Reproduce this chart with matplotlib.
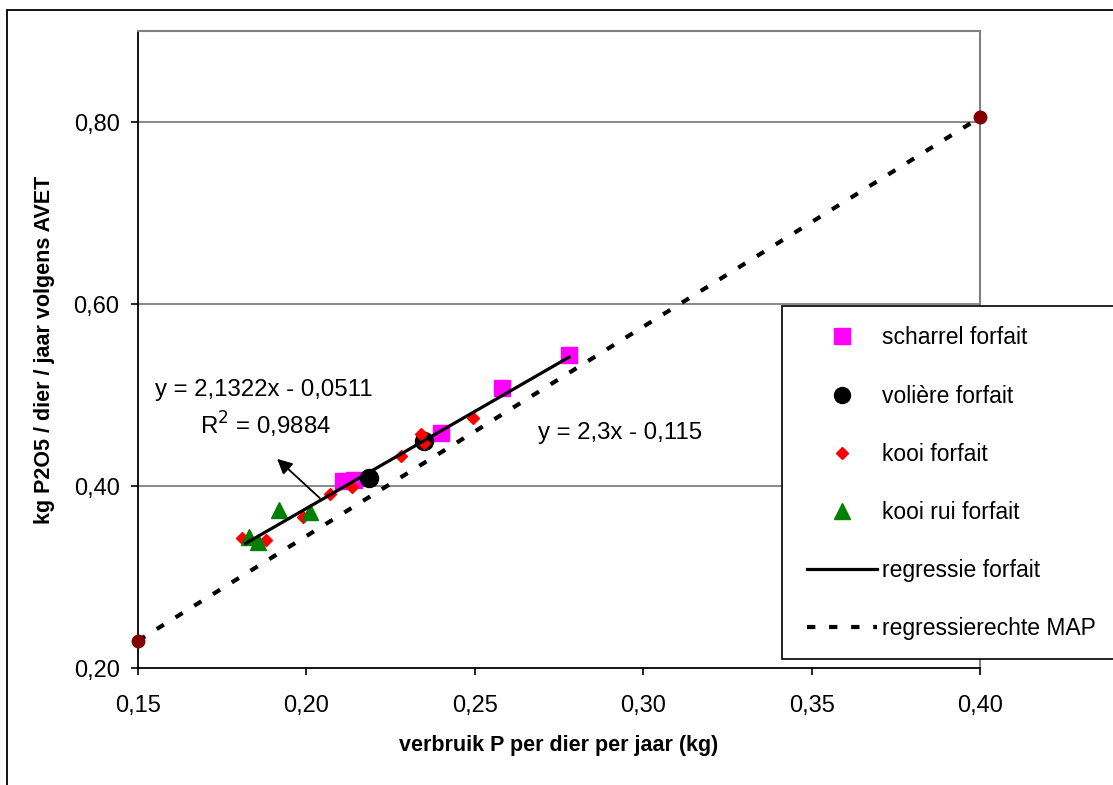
import matplotlib
matplotlib.use("Agg")
import matplotlib.pyplot as plt
from matplotlib.lines import Line2D
from matplotlib.patches import Rectangle
from matplotlib.ticker import FuncFormatter

plt.rcParams['font.family'] = ['Liberation Sans', 'DejaVu Sans']

# --- data -------------------------------------------------------------
scharrel_x = [0.211, 0.214, 0.240, 0.258, 0.278]
scharrel_y = [0.405, 0.407, 0.458, 0.508, 0.544]

voliere_x = [0.2186, 0.235]
voliere_y = [0.409, 0.449]

kooi_x = [0.181, 0.188, 0.199, 0.207, 0.2135, 0.228, 0.234, 0.235, 0.2495]
kooi_y = [0.343, 0.341, 0.366, 0.391, 0.399, 0.433, 0.457, 0.447, 0.475]

kooi_rui_x = [0.183, 0.1856, 0.192, 0.201]
kooi_rui_y = [0.344, 0.338, 0.374, 0.371]

# fitted regression on forfait data
reg_slope, reg_icept, reg_r2 = 2.1322, -0.0511, 0.9884
reg_x = [0.182, 0.278]

# MAP reference line
map_slope, map_icept = 2.3, -0.115
map_x = [0.15, 0.40]

x_ticks = [0.15, 0.20, 0.25, 0.30, 0.35, 0.40]
y_ticks = [0.20, 0.40, 0.60, 0.80]

# --- figure -----------------------------------------------------------
W, H = 1113, 785
fig = plt.figure(figsize=(W / 100, H / 100), dpi=100)
ax = fig.add_axes([138 / W, 1 - 668 / H, (980 - 138) / W, (668 - 31) / H])

# outer chart frame
fig.add_artist(Rectangle((7 / W, -0.2), 1.3, 1.2 - 10 / H,
                         transform=fig.transFigure, fill=False,
                         edgecolor='black', lw=1.3, zorder=0))

ax.set_xlim(0.15, 0.40)
ax.set_ylim(0.20, 0.90)

for y in y_ticks[1:]:
    ax.axhline(y, color='#808080', lw=1.3, zorder=1)

map_y = [map_slope * x + map_icept for x in map_x]
reg_y = [reg_slope * x + reg_icept for x in reg_x]

ax.plot(map_x, map_y, color='black', lw=3, dashes=(2.0, 3.3), zorder=2)
ax.plot(map_x, map_y, 'o', color='#800000', ms=9, zorder=6, clip_on=False)
ax.plot(reg_x, reg_y, color='black', lw=2.3, zorder=4)

ax.plot(scharrel_x, scharrel_y, 's', color='#ff00ff', ms=11, zorder=3)
ax.plot(voliere_x, voliere_y, 'o', color='black', ms=13, zorder=3)
ax.plot(kooi_x, kooi_y, 'D', color='#ff0000', ms=6.5, zorder=3)
ax.plot(kooi_rui_x, kooi_rui_y, '^', color='#008000', ms=11, zorder=3)

fs_tick = 17
fs_note = 17.3
fs_leg = 16.5
fs_lab = 15.5
ax.text(0.155, 0.5055, 'y = 2,1322x - 0,0511', fontsize=fs_note, va='center', ha='left')
ax.text(0.1684, 0.467, 'R$^2$ = 0,9884', fontsize=fs_note, va='center', ha='left')
ax.text(0.2688, 0.458, 'y = 2,3x - 0,115', fontsize=fs_note, va='center', ha='left')
ax.annotate('', xy=(0.1907, 0.4319), xytext=(0.2046, 0.3846),
            arrowprops=dict(arrowstyle='-|>,head_length=0.9,head_width=0.45',
                            color='black', lw=1.3), zorder=5)

# axes styling
for side in ('top', 'right'):
    ax.spines[side].set_color('#808080')
    ax.spines[side].set_linewidth(1.5)
for side in ('left', 'bottom'):
    ax.spines[side].set_color('black')
    ax.spines[side].set_linewidth(1.3)

comma = FuncFormatter(lambda v, p: f'{v:.2f}'.replace('.', ','))
ax.set_xticks(x_ticks)
ax.set_yticks(y_ticks)
ax.xaxis.set_major_formatter(comma)
ax.yaxis.set_major_formatter(comma)
ax.tick_params(direction='out', length=5, width=1.2, labelsize=fs_tick,
               color='black')
ax.tick_params(axis='y', pad=8.3)
ax.tick_params(axis='x', pad=14.5)

ax.set_xlabel('verbruik P per dier per jaar (kg)', fontsize=fs_lab,
              fontweight='bold', labelpad=13)
ax.set_ylabel('kg P2O5 / dier / jaar volgens AVET', fontsize=fs_lab,
              fontweight='bold', labelpad=13)

# legend with its own white box running off the right edge
fig.add_artist(Rectangle((782 / W, 1 - 659 / H), 0.5, (659 - 306) / H,
                         transform=fig.transFigure, facecolor='white',
                         edgecolor='black', lw=1.2, zorder=8))
handles = [
    Line2D([], [], ls='none', marker='s', color='#ff00ff', ms=11),
    Line2D([], [], ls='none', marker='o', color='black', ms=11.5),
    Line2D([], [], ls='none', marker='D', color='#ff0000', ms=6.5),
    Line2D([], [], ls='none', marker='^', color='#008000', ms=11),
    Line2D([], [], color='black', lw=2.3),
    Line2D([], [], color='black', lw=3, dashes=(2.0, 3.3)),
]
labels = ['scharrel forfait', 'volière forfait', 'kooi forfait',
          'kooi rui forfait', 'regressie forfait', 'regressierechte MAP']
leg = fig.legend(handles, labels, loc='upper left',
                 bbox_to_anchor=(796 / W, 1 - 315 / H),
                 frameon=False, fontsize=fs_leg, handlelength=3.05,
                 handletextpad=0.2, labelspacing=1.53, borderpad=0)
leg.set_zorder(9)

fig.savefig('out.png', dpi=100)
